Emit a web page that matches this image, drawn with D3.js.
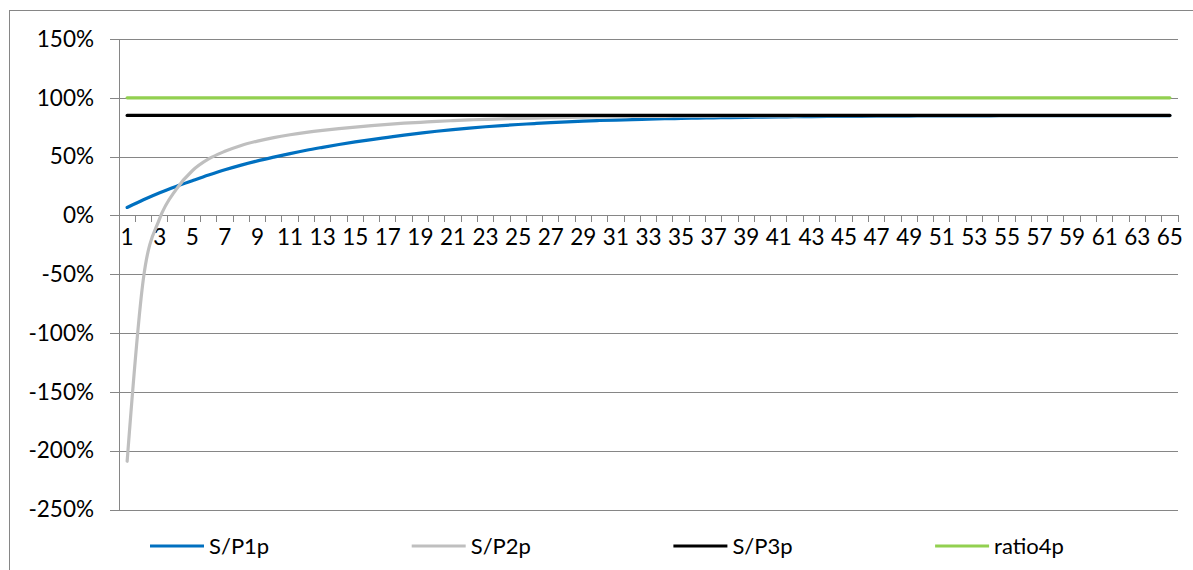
<!DOCTYPE html>
<html>
<head>
	<meta charset="utf-8">
	<title>S/P ratios</title>
	<style>
		body {
			margin: 0;
			background: #ffffff;
		}
		svg text {
			font-family: Lato, "Open Sans", sans-serif;
			font-size: 22px;
			fill: #000000;
		}
	</style>
</head>
<body>
	<script src="https://d3js.org/d3.v7.min.js"></script>
	<script>
		// periods 1..65
		var categories = d3.range(1, 66);
		var xLabels = categories.filter(function(d) { return d % 2 === 1; });
		var yTicks = [-250, -200, -150, -100, -50, 0, 50, 100, 150];

		// values in %
		var sp1p = [6.8, 13.3, 19.3, 24.6, 29.5, 34.3, 38.8, 42.8, 46.4, 49.6,
			52.6, 55.4, 57.9, 60.3, 62.5, 64.5, 66.4, 68.3, 70.0, 71.6,
			73.0, 74.3, 75.4, 76.4, 77.3, 78.1, 78.9, 79.6, 80.2, 80.7,
			81.1, 81.5, 81.9, 82.2, 82.5, 82.8, 83.0, 83.2, 83.4, 83.6,
			83.7, 83.9, 84.0, 84.1, 84.2, 84.3, 84.4, 84.5, 84.5, 84.6,
			84.6, 84.7, 84.7, 84.7, 84.8, 84.8, 84.8, 84.8, 84.9, 84.9,
			84.9, 84.9, 84.9, 84.9, 84.9];
		var sp2p = [-209, -53.5, -2.5, 22, 38, 48, 54.5, 59.5, 63.2, 66.2,
			68.6, 70.6, 72.3, 73.8, 75.1, 76.3, 77.4, 78.4, 79.2, 80.0,
			80.6, 81.2, 81.7, 82.1, 82.5, 82.8, 83.1, 83.4, 83.6, 83.8,
			84.0, 84.1, 84.2, 84.3, 84.4, 84.5, 84.5, 84.6, 84.6, 84.7,
			84.7, 84.7, 84.8, 84.8, 84.8, 84.8, 84.9, 84.9, 84.9, 84.9,
			84.9, 84.9, 84.9, 84.9, 84.9, 84.9, 84.9, 84.9, 84.9, 84.9,
			84.9, 84.9, 84.9, 84.9, 84.9];
		var sp3p = categories.map(function() { return 85; });
		var ratio4p = categories.map(function() { return 100; });

		var seriesNames = ["S/P1p", "S/P2p", "S/P3p", "ratio4p"];
		var seriesValues = [sp1p, sp2p, sp3p, ratio4p];
		var seriesColors = ["#0070C0", "#BFBFBF", "#000000", "#92D050"];

		var width = 1193;
		var height = 570;
		var plot = {left: 119, right: 1178, top: 39, bottom: 509.5};
		var gridColor = "#868686";

		var svg = d3.select("body").append("svg")
			.attr("width", width)
			.attr("height", height);

		// chart border
		svg.append("rect")
			.attr("x", 9.5)
			.attr("y", 10.5)
			.attr("width", width + 20)
			.attr("height", height + 20)
			.style("fill", "none")
			.style("stroke", gridColor)
			.style("stroke-width", 1);

		var x = d3.scaleBand()
			.domain(categories)
			.range([plot.left, plot.right])
			.padding(0);

		var y = d3.scaleLinear()
			.domain([-250, 150])
			.range([plot.bottom, plot.top]);

		function cx(d) {
			return x(d) + x.bandwidth() / 2;
		}

		// horizontal gridlines
		svg.append("g")
			.attr("transform", "translate(" + plot.left + ",0)")
			.call(d3.axisLeft(y).tickValues(yTicks).tickSize(-(plot.right - plot.left)).tickFormat(""))
			.call(function(g) {
				g.select(".domain").remove();
				g.selectAll("line").style("stroke", gridColor).attr("shape-rendering", "crispEdges");
			});

		// y axis with labels
		svg.append("g")
			.attr("transform", "translate(" + plot.left + ",0)")
			.call(d3.axisLeft(y).tickValues(yTicks).tickSize(9).tickPadding(16).tickFormat(function(d) { return d + "%"; }))
			.call(function(g) {
				g.select(".domain").attr("d", "M0.5," + plot.top + "V" + plot.bottom).style("stroke", gridColor).attr("shape-rendering", "crispEdges");
				g.selectAll("line").style("stroke", gridColor).attr("shape-rendering", "crispEdges");
				g.selectAll("text").style("font-size", "22.5px").style("font-family", "Lato, sans-serif");
			});

		// x axis along 0%
		var zeroY = y(0);
		var xAxis = svg.append("g")
			.attr("transform", "translate(0," + zeroY + ")");
		xAxis.call(d3.axisBottom(x).tickValues(xLabels).tickSize(0).tickPadding(14))
			.call(function(g) {
				g.select(".domain").remove();
				g.selectAll("text").style("font-size", "22.5px").style("font-family", "Lato, sans-serif");
			});
		// tick marks between categories
		var bounds = categories.map(function(d) { return x(d); }).concat([plot.right]);
		xAxis.selectAll(".boundary")
			.data(bounds)
			.enter().append("line")
			.attr("class", "boundary")
			.attr("x1", function(d) { return d; })
			.attr("x2", function(d) { return d; })
			.attr("y1", 0)
			.attr("y2", 7)
			.style("stroke", gridColor)
			.attr("shape-rendering", "crispEdges");

		// series lines (smoothed like the spreadsheet)
		var line = d3.line()
			.x(function(d, i) { return cx(categories[i]); })
			.y(function(d) { return y(d); })
			.curve(d3.curveCatmullRom.alpha(0));

		svg.append("g").selectAll("path")
			.data(seriesValues)
			.enter().append("path")
			.attr("d", line)
			.style("fill", "none")
			.style("stroke", function(d, i) { return seriesColors[i]; })
			.style("stroke-width", 3.2)
			.style("stroke-linecap", "round")
			.style("stroke-linejoin", "round");

		// legend
		var legend = svg.append("g")
			.attr("transform", "translate(0,546)");
		var item = legend.selectAll("g")
			.data(seriesNames)
			.enter().append("g")
			.attr("transform", function(d, i) { return "translate(" + (150 + i * 261.7) + ",0)"; });
		item.append("line")
			.attr("x1", 0)
			.attr("x2", 54)
			.style("stroke", function(d, i) { return seriesColors[i]; })
			.style("stroke-width", 3.2);
		item.append("text")
			.attr("x", 59)
			.attr("dy", "0.35em")
			.text(function(d) { return d; });
	</script>
</body>
</html>
